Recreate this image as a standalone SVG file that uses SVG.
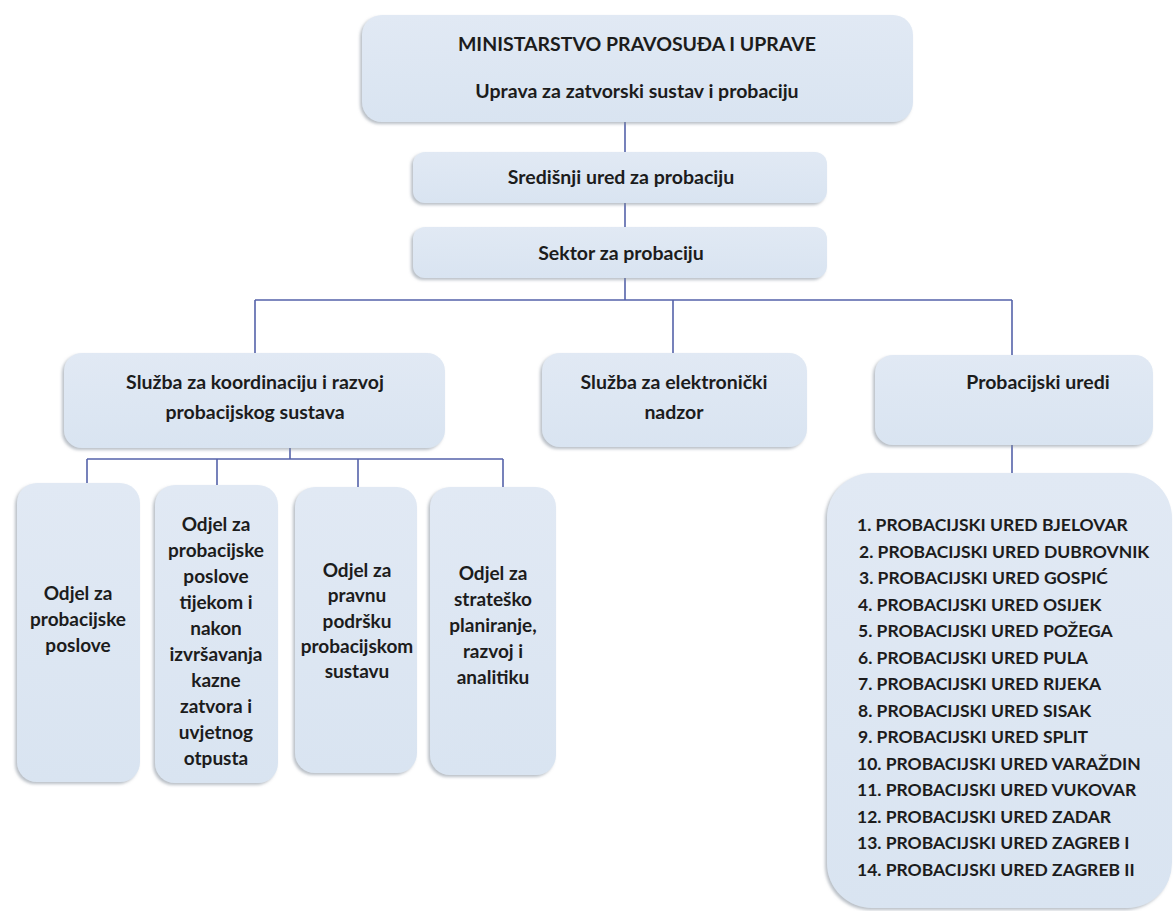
<svg xmlns="http://www.w3.org/2000/svg" width="1175" height="911" viewBox="0 0 1175 911">
<defs>
<linearGradient id="fill" x1="0" y1="0" x2="0" y2="1">
<stop offset="0" stop-color="#E1E9F4"/>
<stop offset="1" stop-color="#D9E4F1"/>
</linearGradient>
<filter id="sh" x="-10%" y="-10%" width="120%" height="120%">
<feDropShadow dx="-2" dy="2" stdDeviation="1.5" flood-color="#7F8A99" flood-opacity="0.55"/>
</filter>
</defs>
<style>
.box { fill: url(#fill); filter: url(#sh); }
.t { font-family: Lato, "Liberation Sans", sans-serif; font-weight: bold; fill: #1c1c1c; text-anchor: middle; font-size: 19.5px; }
.o { font-family: Lato, "Liberation Sans", sans-serif; font-weight: bold; fill: #1c1c1c; text-anchor: middle; font-size: 19px; }
.l { font-family: Lato, "Liberation Sans", sans-serif; font-weight: bold; fill: #1c1c1c; font-size: 17.5px; }
.c { stroke: #5563AA; stroke-width: 1.6; fill: none; }
</style>
<rect width="1175" height="911" fill="#FFFFFF"/>
<g id="connectors">
<path class="c" d="M625 122 V152 M625 203 V227 M625 278 V300 M255 300 H1012 M255 300 V353 M673 300 V353 M1012 300 V355 M1012 445 V473 M290 448 V459 M87 459 H503 M87 459 V483 M217 459 V485 M358 459 V487 M503 459 V487"/>
</g>
<g id="ministarstvo">
<rect class="box" x="362" y="15" width="551" height="107" rx="20"/>
<text class="t" x="637" y="51">MINISTARSTVO PRAVOSUĐA I UPRAVE</text>
<text class="t" x="637" y="98">Uprava za zatvorski sustav i probaciju</text>
</g>
<g id="sredisnji">
<rect class="box" x="413" y="152" width="414" height="51" rx="12"/>
<text class="t" x="621" y="184">Središnji ured za probaciju</text>
</g>
<g id="sektor">
<rect class="box" x="413" y="227" width="414" height="51" rx="12"/>
<text class="t" x="621" y="260">Sektor za probaciju</text>
</g>
<g id="sluzba-koordinacija">
<rect class="box" x="64" y="353" width="381" height="95" rx="18"/>
<text class="t" x="255" y="389">Služba za koordinaciju i razvoj</text>
<text class="t" x="255" y="419">probacijskog sustava</text>
</g>
<g id="sluzba-nadzor">
<rect class="box" x="542" y="353" width="265" height="94" rx="18"/>
<text class="t" x="674" y="389">Služba za elektronički</text>
<text class="t" x="674" y="419">nadzor</text>
</g>
<g id="probacijski-uredi">
<rect class="box" x="875" y="355" width="278" height="90" rx="18"/>
<text class="t" x="1038" y="389">Probacijski uredi</text>
</g>
<g id="odjel-1">
<rect class="box" x="17" y="483" width="123" height="299" rx="20"/>
<text class="o" x="78" y="600">Odjel za</text>
<text class="o" x="78" y="626">probacijske</text>
<text class="o" x="78" y="652">poslove</text>
</g>
<g id="odjel-2">
<rect class="box" x="155" y="485" width="123" height="298" rx="20"/>
<text class="o" x="216" y="531">Odjel za</text>
<text class="o" x="216" y="557">probacijske</text>
<text class="o" x="216" y="583">poslove</text>
<text class="o" x="216" y="609">tijekom i</text>
<text class="o" x="216" y="635">nakon</text>
<text class="o" x="216" y="661">izvršavanja</text>
<text class="o" x="216" y="687">kazne</text>
<text class="o" x="216" y="713">zatvora i</text>
<text class="o" x="216" y="739">uvjetnog</text>
<text class="o" x="216" y="765">otpusta</text>
</g>
<g id="odjel-3">
<rect class="box" x="295" y="487" width="122" height="286" rx="20"/>
<text class="o" x="357" y="577">Odjel za</text>
<text class="o" x="357" y="602">pravnu</text>
<text class="o" x="357" y="628">podršku</text>
<text class="o" x="357" y="653">probacijskom</text>
<text class="o" x="357" y="678">sustavu</text>
</g>
<g id="odjel-4">
<rect class="box" x="430" y="487" width="126" height="288" rx="20"/>
<text class="o" x="493" y="580">Odjel za</text>
<text class="o" x="493" y="606">strateško</text>
<text class="o" x="493" y="632">planiranje,</text>
<text class="o" x="493" y="658">razvoj i</text>
<text class="o" x="493" y="684">analitiku</text>
</g>
<g id="popis-ureda">
<rect class="box" x="827" y="473" width="345" height="435" rx="45"/>
<text class="l" x="857" y="531">1. PROBACIJSKI URED BJELOVAR</text>
<text class="l" x="859" y="557.5">2. PROBACIJSKI URED DUBROVNIK</text>
<text class="l" x="859" y="584">3. PROBACIJSKI URED GOSPIĆ</text>
<text class="l" x="858" y="610.5">4. PROBACIJSKI URED OSIJEK</text>
<text class="l" x="858" y="637">5. PROBACIJSKI URED POŽEGA</text>
<text class="l" x="858" y="663.5">6. PROBACIJSKI URED PULA</text>
<text class="l" x="858" y="690">7. PROBACIJSKI URED RIJEKA</text>
<text class="l" x="858" y="716.5">8. PROBACIJSKI URED SISAK</text>
<text class="l" x="858" y="743">9. PROBACIJSKI URED SPLIT</text>
<text class="l" x="857" y="769.5">10. PROBACIJSKI URED VARAŽDIN</text>
<text class="l" x="857" y="796">11. PROBACIJSKI URED VUKOVAR</text>
<text class="l" x="857" y="822.5">12. PROBACIJSKI URED ZADAR</text>
<text class="l" x="857" y="849">13. PROBACIJSKI URED ZAGREB I</text>
<text class="l" x="857" y="875.5">14. PROBACIJSKI URED ZAGREB II</text>
</g>
</svg>
